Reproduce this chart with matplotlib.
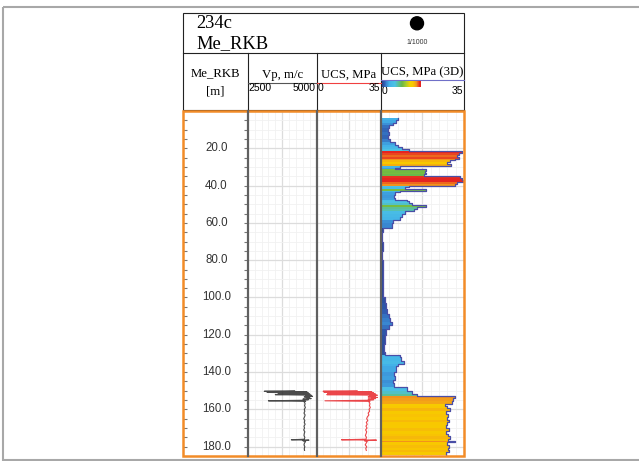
import numpy as np
import matplotlib
matplotlib.use('Agg')
import matplotlib.pyplot as plt
from matplotlib.colors import LinearSegmentedColormap, Normalize
from matplotlib.patches import Rectangle, Circle
import matplotlib as mpl

W, H = 639, 461

# ---- data -------------------------------------------------------------
well_name = '234c'
depth_ref = 'Me_RKB'
scale_txt = '1/1000'

vp_min, vp_max = 2500, 5000
ucs_min, ucs_max = 0, 35
depth_top, depth_bot = 0, 185
depth_labels = [20, 40, 60, 80, 100, 120, 140, 160, 180]

# Vp log (m/c)
vp_depth = [150.0, 150.3, 150.6, 150.9, 151.2, 151.5, 151.8, 152.1, 152.4, 152.7,
            153.0, 153.3, 153.6, 153.9, 154.2, 154.5, 154.8, 155.1, 155.4, 155.7,
            156.0, 157, 158, 159, 160, 161, 162, 163, 164, 165, 166, 167, 168, 169,
            170, 171, 172, 173, 174, 175, 176.0, 176.3, 176.5, 176.8, 177.2,
            178, 179, 180, 181, 182]
vp_vals = [4200, 3100, 4650, 3200, 4700, 3600, 4750, 3500, 4800, 4600,
           4850, 4550, 4750, 4650, 4800, 4500, 4700, 4550, 3250, 4600,
           4550, 4580, 4560, 4590, 4550, 4570, 4540, 4580, 4560, 4530, 4570, 4550, 4580, 4540,
           4560, 4530, 4570, 4550, 4540, 4570, 4550, 4080, 4720, 4500, 4600,
           4560, 4540, 4570, 4550, 4560]

# UCS log (MPa), same depths
ucs_vals = [22, 3.5, 30, 4, 31, 6, 32, 5.5, 33, 29,
            32, 28, 33, 30, 32, 28, 31, 29, 4.5, 29,
            28.5, 29, 28.7, 29.2, 28.5, 28.8, 28, 28.4, 27.6, 27.2, 27.8, 27, 27.5, 26.8,
            27.4, 26.6, 27.2, 26.9, 26.5, 27.1, 26.8, 13.5, 32.5, 26, 27.5,
            27, 26.4, 27.2, 26.7, 27]

# UCS 3D profile: interval tops and values, last entry is bottom
ucs3d_top = [3.5, 5, 6.5, 7.5, 9, 11, 13, 15, 16.5, 18, 19.5, 20.5, 21.5, 22.5, 23.5,
             24.5, 25.5, 26.5, 27.5, 28.5, 29.5, 30.5, 31, 32, 33, 34, 35, 36, 37, 38,
             39, 40, 41, 42, 42.8, 43.5, 45, 46.5, 47.5, 48.5, 49.5, 50.5, 51.5, 52.5,
             53.5, 55, 57, 58.5, 60, 62.5, 65, 70, 75, 80, 85, 90, 95, 100, 103, 106,
             109, 111, 113, 115, 117, 120, 125, 129, 131, 132, 134, 135.5, 137, 140,
             142, 144, 146, 148, 150, 152, 153, 154, 155.5, 157, 158, 159.5, 161, 162.5,
             164, 165.5, 167, 168.5, 170, 171.5, 173, 174.5, 176, 177, 177.7, 179,
             180.5, 182, 183, 184.5]
ucs3d_vals = [7, 6.5, 5, 3.5, 3, 3.5, 3, 4, 6, 7, 9, 12, 34, 33, 32,
              33, 31, 29, 28, 29.5, 8, 6, 19, 18.5, 19, 18, 33.5, 34, 35, 32,
              31, 12, 10, 19, 8, 6, 5.5, 6, 11, 12, 13, 19, 15, 14,
              10, 9, 8, 5, 4.5, 0.8, 0.5, 0.7, 0.6, 0.9, 0.7, 1.0, 0.8, 1.5, 2, 2.5,
              3.5, 4, 4.5, 3.5, 2, 1.5, 1.2, 1.5, 8, 8.5, 9.5, 7, 6.5, 5.5,
              6, 5, 5.5, 11, 13, 15, 31, 30.5, 30, 27, 28, 29, 27.5, 28.3,
              27.8, 28.8, 28, 27.5, 28.6, 27.6, 28.2, 28.9, 28.3, 31, 28, 28.7,
              28.1, 28.8, 27.5]


def rect(x0, y0, x1, y1):
    return [x0 / W, 1 - y1 / H, (x1 - x0) / W, (y1 - y0) / H]


cmap = LinearSegmentedColormap.from_list('ucs', [
    (0.0, '#27408b'), (0.07, '#2f5cb0'), (0.13, '#3a8ad4'), (0.2, '#42b2e8'),
    (0.34, '#4cc2e4'), (0.44, '#5cbe8c'), (0.52, '#6ab845'), (0.62, '#a8cc2c'),
    (0.72, '#f2d200'), (0.8, '#f8c800'), (0.88, '#f39a1c'), (0.97, '#e52421'),
    (1.0, '#e52421')])
norm = Normalize(ucs_min, ucs_max)

serif = 'Liberation Serif'
sans = 'Liberation Sans'

fig = plt.figure(figsize=(W / 100, H / 100), dpi=100)

# track positions (pixels)
x_dep, x_vp, x_ucs, x_3d, x_end = 182.7, 247.7, 316.7, 381.0, 464.0
y_top, y_bot = 111.0, 456.0


def style_track(ax, xmin, xmax):
    ax.set_xlim(xmin, xmax)
    ax.set_ylim(depth_bot, depth_top)
    ax.set_xticks([(xmin + xmax) / 2])
    ax.set_xticks(np.linspace(xmin, xmax, 11), minor=True)
    ax.set_yticks(np.arange(0, 186, 20))
    ax.set_yticks(np.arange(0, 186, 5), minor=True)
    ax.grid(which='major', color='#dcdcdc', lw=0.9)
    ax.grid(which='minor', color='#f1f1f1', lw=0.6)
    ax.tick_params(which='both', length=0, labelleft=False, labelbottom=False)
    for s in ax.spines.values():
        s.set_visible(False)
    ax.set_axisbelow(True)
    ax.patch.set_alpha(0)


# depth column
ax_d = fig.add_axes(rect(x_dep, y_top, x_vp, y_bot))
ax_d.set_xlim(0, 1)
ax_d.set_ylim(depth_bot, depth_top)
for s in ax_d.spines.values():
    s.set_visible(False)
ax_d.set_yticks(np.arange(0, 186, 5))
ax_d.tick_params(axis='y', direction='in', length=3, width=0.8, color='#777777',
                 left=True, right=True, labelleft=False, labelright=False)
ax_d.set_xticks([])
for d in depth_labels:
    ax_d.text(0.52, d, f'{d:.1f}', ha='center', va='center', fontsize=8.3,
              family=sans, color='#333333')

# Vp track
ax_vp = fig.add_axes(rect(x_vp, y_top, x_ucs, y_bot))
style_track(ax_vp, vp_min, vp_max)
ax_vp.plot(vp_vals, vp_depth, color='#1e1e1e', lw=0.8, alpha=0.8)

# UCS track
ax_u = fig.add_axes(rect(x_ucs, y_top, x_3d, y_bot))
style_track(ax_u, ucs_min, ucs_max)
ax_u.plot(ucs_vals, vp_depth, color='#e8262a', lw=0.8, alpha=0.85)

# UCS 3D track
ax_3 = fig.add_axes(rect(x_3d, y_top, x_end, y_bot))
style_track(ax_3, ucs_min, ucs_max)
tops = np.array(ucs3d_top[:-1])
bots = np.array(ucs3d_top[1:])
vals = np.array(ucs3d_vals)
ax_3.barh(tops, vals, height=bots - tops, align='edge', left=0,
          color=cmap(norm(vals)), linewidth=0)
ax_3.plot(np.repeat(vals, 2), np.column_stack([tops, bots]).ravel(),
          color='#4a4ea6', lw=0.9)

# overlay for header and frames (pixel coords)
ov = fig.add_axes([0, 0, 1, 1], zorder=10)
ov.set_xlim(0, W)
ov.set_ylim(H, 0)
ov.axis('off')
ov.patch.set_alpha(0)

ov.add_patch(Rectangle((3.3, 6.7), 700, 453.3, fill=False, ec='#a8a8a8', lw=1.5))

# header box
ov.add_patch(Rectangle((x_dep, 13.3), x_end - x_dep, 110 - 13.3, fill=False,
                       ec='#222222', lw=0.8))
ov.plot([x_dep, x_end], [53.3, 53.3], color='#222222', lw=0.8)
for x in (x_vp, x_ucs, x_3d):
    ov.plot([x, x], [53.3, 110], color='#222222', lw=0.8)
    ov.plot([x, x], [y_top, y_bot], color='#606060', lw=1.6)

ov.text(196.7, 28.5, well_name, family=serif, fontsize=13.3, va='baseline', ha='left')
ov.text(196.7, 48, depth_ref, family=serif, fontsize=13.3, va='baseline', ha='left')
ov.add_patch(Circle((417, 23.3), 6.5, color='black'))
ov.text(417, 43, scale_txt, family=sans, fontsize=5, ha='center', va='center',
        color='#333333')

# column headers
hfs = 9.2
ov.text((x_dep + x_vp) / 2, 73.5, 'Me_RKB', family=serif, fontsize=hfs, ha='center', va='center')
ov.text((x_dep + x_vp) / 2, 91, '[m]', family=serif, fontsize=hfs, ha='center', va='center')

ov.text((x_vp + x_ucs) / 2, 75, 'Vp, m/c', family=serif, fontsize=hfs, ha='center', va='center')
ov.plot([x_vp, x_ucs], [82.7, 82.7], color='#555555', lw=0.8)
ov.text(x_vp + 1, 88, str(vp_min), family=sans, fontsize=7.5, ha='left', va='center')
ov.text(x_ucs - 1, 88, str(vp_max), family=sans, fontsize=7.5, ha='right', va='center')

ov.text((x_ucs + x_3d) / 2, 75, 'UCS, MPa', family=serif, fontsize=hfs, ha='center', va='center')
ov.plot([x_ucs, x_3d], [82.7, 82.7], color='#f04040', lw=0.8)
ov.text(x_ucs + 1, 88, str(ucs_min), family=sans, fontsize=7.5, ha='left', va='center')
ov.text(x_3d - 1, 88, str(ucs_max), family=sans, fontsize=7.5, ha='right', va='center')

ov.text((x_3d + x_end) / 2, 72.5, 'UCS, MPa (3D)', family=serif, fontsize=hfs,
        ha='center', va='center')
ov.plot([x_3d, x_end], [80, 80], color='#7070c8', lw=0.8)
ov.text(x_3d + 1, 91, str(ucs_min), family=sans, fontsize=7.5, ha='left', va='center')
ov.text(x_end - 1, 91, str(ucs_max), family=sans, fontsize=7.5, ha='right', va='center')

# colour bar in header
cax = fig.add_axes(rect(x_3d + 0.5, 80.7, 421, 86.7), zorder=11)
cb = mpl.colorbar.ColorbarBase(cax, cmap=cmap, norm=norm, orientation='horizontal')
cb.outline.set_visible(False)
cax.set_xticks([])
cax.set_yticks([])

# orange track frame
ov.add_patch(Rectangle((x_dep, y_top), x_end - x_dep, y_bot - y_top, fill=False,
                       ec='#f28c28', lw=1.8))

fig.savefig('out.png', dpi=100)
